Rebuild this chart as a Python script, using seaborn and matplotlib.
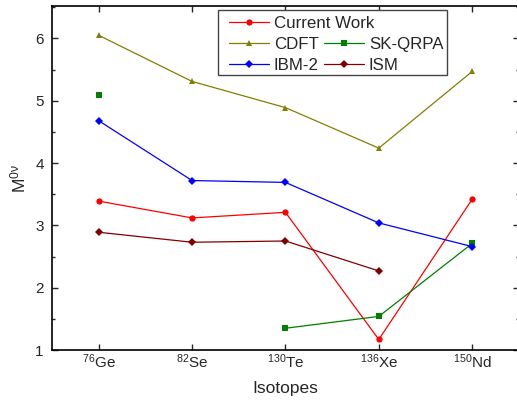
import numpy as np
import pandas as pd
import matplotlib.pyplot as plt
import seaborn as sns
from matplotlib.lines import Line2D
from matplotlib.patches import Rectangle
from matplotlib.ticker import MultipleLocator

# data
isotopes = [r'$^{76}$Ge', r'$^{82}$Se', r'$^{130}$Te', r'$^{136}$Xe', r'$^{150}$Nd']
current_work = [3.39, 3.12, 3.21, 1.17, 3.42]
cdft = [6.05, 5.31, 4.89, 4.24, 5.47]
sk_qrpa = [5.09, np.nan, 1.35, 1.54, 2.71]
ibm2 = [4.68, 3.72, 3.69, 3.04, 2.66]
ism = [2.89, 2.73, 2.75, 2.27, np.nan]

series = [
    ('Current Work', current_work, 'red', 'o', 4.5),
    ('CDFT', cdft, '#808000', '^', 5),
    ('SK-QRPA', sk_qrpa, 'green', 's', 4.5),
    ('IBM-2', ibm2, 'blue', 'D', 4),
    ('ISM', ism, '#800000', 'D', 4),
]

sns.set_style('ticks')
plt.rcParams['font.family'] = ['Liberation Sans', 'DejaVu Sans']
plt.rcParams['mathtext.fontset'] = 'custom'
plt.rcParams['mathtext.rm'] = 'Liberation Sans'
plt.rcParams['mathtext.it'] = 'Liberation Sans'

fig = plt.figure(figsize=(5.17, 4.01), dpi=100)
ax = fig.add_axes([0.1006, 0.127, 0.903, 0.858])

handles = {}
for name, vals, color, marker, ms in series:
    df = pd.DataFrame({'x': np.arange(len(isotopes)), 'y': vals})
    # split into contiguous runs so gaps stay open
    df['seg'] = df['y'].isna().cumsum()
    df = df.dropna()
    for _, part in df.groupby('seg'):
        sns.lineplot(data=part, x='x', y='y', color=color, marker=marker,
                     markersize=ms, markeredgewidth=0, linewidth=0.9,
                     ax=ax, legend=False)
    handles[name] = Line2D([], [], color=color, marker=marker, markersize=ms,
                           markeredgewidth=0, linewidth=0.9)

ax.set_xlim(-0.5, 4.5)
ax.set_ylim(1, 6.52)
ax.set_xticks(range(len(isotopes)))
ax.set_xticklabels(isotopes, fontsize=11)
ax.yaxis.set_major_locator(MultipleLocator(1))
ax.yaxis.set_minor_locator(MultipleLocator(0.5))
ax.tick_params(axis='both', which='both', direction='in', top=True, right=True,
               labelsize=11, width=1)
ax.tick_params(axis='both', which='major', length=4)
ax.tick_params(axis='y', which='minor', length=2)
ax.tick_params(axis='x', pad=2)
ax.tick_params(axis='y', pad=6)
for s in ax.spines.values():
    s.set_linewidth(1.2)
    s.set_color('black')

ax.set_xlabel('Isotopes', fontsize=12.5, labelpad=7)
ax.set_ylabel(r'M$^{\mathrm{0ν}}$', fontsize=12.5, labelpad=5)

# legend: frame drawn separately, "Current Work" on its own row
frame = Rectangle((218 / 517, 1 - 75 / 401), 229 / 517, 65 / 401,
                  transform=fig.transFigure, facecolor='white',
                  edgecolor='#444444', linewidth=1, zorder=4, clip_on=False)
ax.add_patch(frame)

common = dict(fontsize=12.2, handlelength=2.35, handletextpad=0.3,
              borderpad=0, borderaxespad=0, frameon=False,
              bbox_transform=fig.transFigure)
leg1 = ax.legend([handles['Current Work']], ['Current Work'],
                 loc='center left', bbox_to_anchor=(229 / 517, 1 - 23.5 / 401),
                 **common)
leg1.set_zorder(5)
ax.add_artist(leg1)
leg2 = ax.legend([handles['CDFT'], handles['IBM-2'], handles['SK-QRPA'], handles['ISM']],
                 ['CDFT', 'IBM-2', 'SK-QRPA', 'ISM'], ncol=2,
                 loc='center left', bbox_to_anchor=(229 / 517, 1 - 55 / 401),
                 columnspacing=0.3, labelspacing=0.32, **common)
leg2.set_zorder(5)

fig.savefig('out.png', dpi=100)
